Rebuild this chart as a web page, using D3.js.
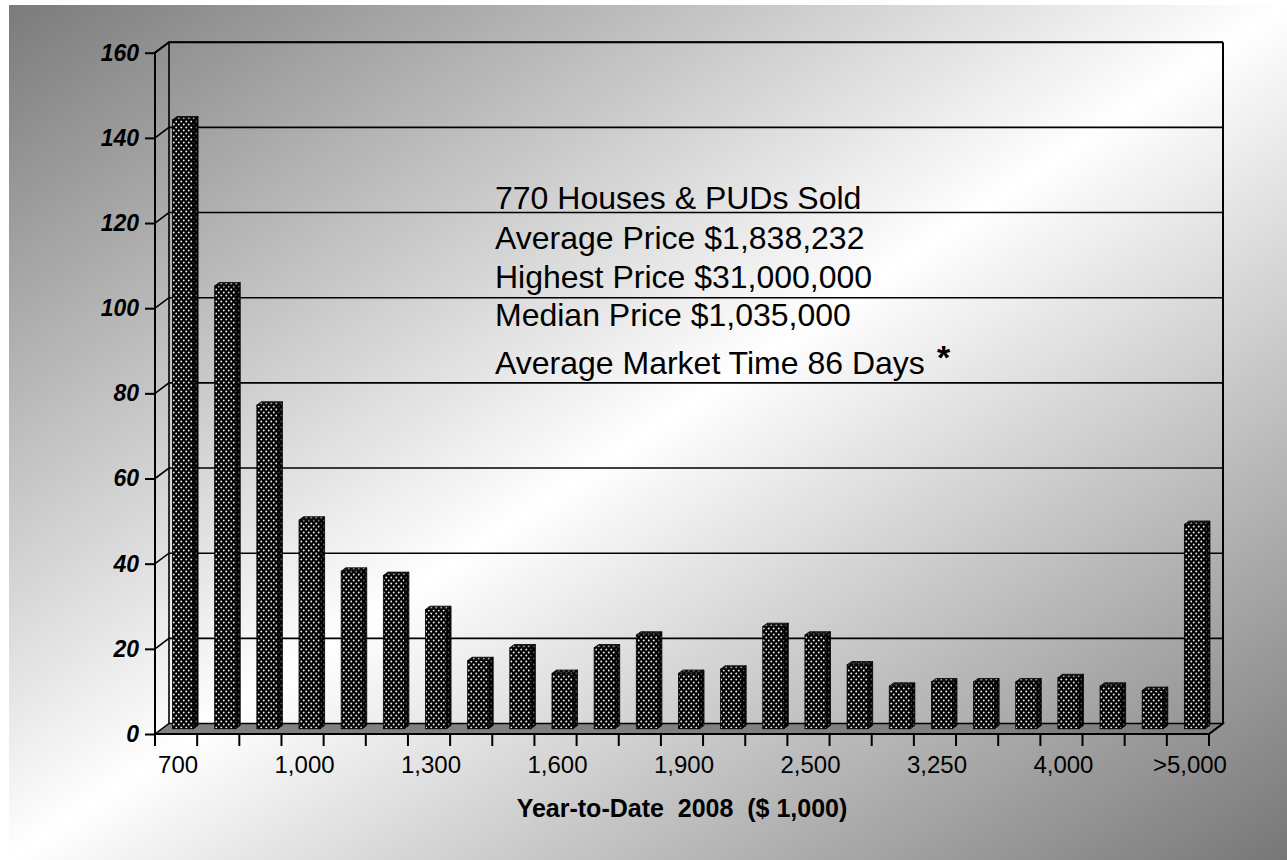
<!DOCTYPE html>
<html>
<head>
<meta charset="utf-8">
<script src="https://cdn.jsdelivr.net/npm/d3@7"></script>
<style>
  html, body { margin: 0; padding: 0; background: #fff; }
  svg { display: block; }
  text { font-family: Arial, "Liberation Sans", sans-serif; }
</style>
</head>
<body>
<svg id="chart" width="1287" height="860"></svg>
<script>
// ---- data ----
const categories = ["700","800","900","1,000","1,100","1,200","1,300","1,400","1,500","1,600",
  "1,700","1,800","1,900","2,000","2,250","2,500","2,750","3,000","3,250","3,500",
  "3,750","4,000","4,500","5,000",">5,000"];
const counts = [143,104,76,49,37,36,28,16,19,13,19,22,13,14,24,22,15,10,11,11,11,12,10,9,48];
const yTicks = [0,20,40,60,80,100,120,140,160];
const xLabelEvery = 3;
const xTitle = "Year-to-Date\u00a0\u00a02008\u00a0\u00a0($ 1,000)";
const notes = ["770 Houses & PUDs Sold","Average Price $1,838,232","Highest Price $31,000,000",
  "Median Price $1,035,000","Average Market Time 86 Days"];

// ---- layout ----
const svg = d3.select("#chart");
const W = 1287, H = 860;
const DX = 14, DY = -10.5;            // depth of the 3D box
const x = d3.scaleBand().domain(categories).range([155, 1209]).padding(0);
const y = d3.scaleLinear().domain([0, 160]).range([734, 52.7]);
const bw = x.bandwidth();

const defs = svg.append("defs");
const g = defs.append("linearGradient").attr("id","bg")
  .attr("x1",0).attr("y1",0).attr("x2",1).attr("y2",1);
g.append("stop").attr("offset","0").attr("stop-color","#7b7b7b");
g.append("stop").attr("offset","0.5").attr("stop-color","#ffffff");
g.append("stop").attr("offset","1").attr("stop-color","#777777");

function dotPattern(id, bg, dot, r) {
  const p = defs.append("pattern").attr("id", id).attr("patternUnits","userSpaceOnUse")
    .attr("width",5).attr("height",6);
  p.append("rect").attr("width",5).attr("height",6).attr("fill",bg);
  p.append("circle").attr("cx",1.25).attr("cy",1.5).attr("r",r).attr("fill",dot);
  p.append("circle").attr("cx",3.75).attr("cy",4.5).attr("r",r).attr("fill",dot);
}
dotPattern("dotsFront", "#000", "#f2f2f2", 0.95);
dotPattern("dotsSide", "#000", "#5a5a5a", 0.9);
dotPattern("dotsTop", "#111", "#aaa", 0.9);

svg.append("rect").attr("x",9).attr("y",5).attr("width",W-9).attr("height",H-5).attr("fill","url(#bg)");

const x0 = x.range()[0], x1 = x.range()[1];
const y0 = y(0), yTop = y(160);

// floor
svg.append("path")
  .attr("d", `M${x0},${y0} L${x1},${y0} L${x1+DX},${y0+DY} L${x0+DX},${y0+DY} Z`)
  .attr("fill","#808080").attr("stroke","#000").attr("stroke-width",1.5);

// back wall gridlines + left wall diagonals
const grid = svg.append("g").attr("stroke","#000").attr("stroke-width",1.6).attr("fill","none");
yTicks.forEach(v => {
  if (v === 0) return;
  grid.append("path").attr("d",
    `M${x0},${y(v)} L${x0+DX},${y(v)+DY} L${x1+DX},${y(v)+DY}`);
});
// wall edges
grid.append("line").attr("x1",x0+DX).attr("y1",yTop+DY).attr("x2",x0+DX).attr("y2",y0+DY);
grid.append("line").attr("x1",x1+DX).attr("y1",yTop+DY).attr("x2",x1+DX).attr("y2",y0+DY)
  .attr("stroke-width",2);

// bars
const bar = { w: bw*0.5, shift: 0.5, depth: 0.32 };
const fx = bar.shift*DX, fy = bar.shift*DY;
const ddx = bar.depth*DX, ddy = bar.depth*DY;
const bars = svg.append("g");
categories.forEach((c, i) => {
  const v = counts[i];
  const bx = x(c) + (bw - bar.w)/2 + fx;
  const base = y(0) + fy;
  const top = y(v) + fy;
  bars.append("path")
    .attr("d", `M${bx+bar.w},${top} L${bx+bar.w+ddx},${top+ddy} L${bx+bar.w+ddx},${base+ddy} L${bx+bar.w},${base} Z`)
    .attr("fill","url(#dotsSide)").attr("stroke","#000").attr("stroke-width",0.8);
  bars.append("path")
    .attr("d", `M${bx},${top} L${bx+ddx},${top+ddy} L${bx+bar.w+ddx},${top+ddy} L${bx+bar.w},${top} Z`)
    .attr("fill","url(#dotsTop)").attr("stroke","#000").attr("stroke-width",0.8);
  bars.append("rect")
    .attr("x", bx).attr("y", top).attr("width", bar.w).attr("height", base - top)
    .attr("fill","url(#dotsFront)").attr("stroke","#000").attr("stroke-width",0.8);
});

// front edges of the box
const edges = svg.append("g").attr("stroke","#000").attr("stroke-width",2).attr("fill","none");
edges.append("path").attr("d", `M${x0},${y0} L${x0},${yTop} L${x0+DX},${yTop+DY} L${x1+DX},${yTop+DY}`);
edges.append("path").attr("d", `M${x0},${y0} L${x1},${y0} L${x1+DX},${y0+DY}`);

// y axis
const yAxis = d3.axisLeft(y).tickValues(yTicks).tickSize(10).tickSizeOuter(0).tickPadding(6);
const ya = svg.append("g").attr("transform", `translate(${x0},0)`).call(yAxis);
ya.select(".domain").remove();
ya.selectAll(".tick line").attr("stroke","#000").attr("stroke-width",2);
ya.selectAll(".tick text").attr("fill","#000")
  .style("font-size","23px").style("font-weight","bold").style("font-style","italic")
  .style("font-family","Arial, 'Liberation Sans', sans-serif");

// x ticks at category boundaries
const xt = svg.append("g").attr("stroke","#000").attr("stroke-width",2);
categories.concat([null]).forEach((c, i) => {
  const xx = c === null ? x1 : x(c);
  xt.append("line").attr("x1",xx).attr("x2",xx).attr("y1",y0).attr("y2",y0+12);
});
svg.append("g").selectAll("text")
  .data(categories.filter((c,i) => i % xLabelEvery === 0))
  .join("text")
  .attr("x", c => x(c) + bw/2 + 2)
  .attr("y", 773)
  .attr("text-anchor","middle")
  .style("font-size","24px")
  .attr("fill","#000")
  .text(c => c);

svg.append("text").attr("x", 682).attr("y", 817).attr("text-anchor","middle")
  .style("font-size","25px").style("font-weight","bold").attr("fill","#000").text(xTitle);

// annotation
const noteY = [209, 249, 288, 326, 374];
svg.append("g").selectAll("text").data(notes).join("text")
  .attr("x", 495).attr("y", (d,i) => noteY[i])
  .style("font-size","32px").attr("fill","#000").text(d => d);
svg.append("text").attr("x", 937).attr("y", 369)
  .style("font-size","34px").style("font-weight","bold").attr("fill","#000").text("*");
</script>
</body>
</html>
